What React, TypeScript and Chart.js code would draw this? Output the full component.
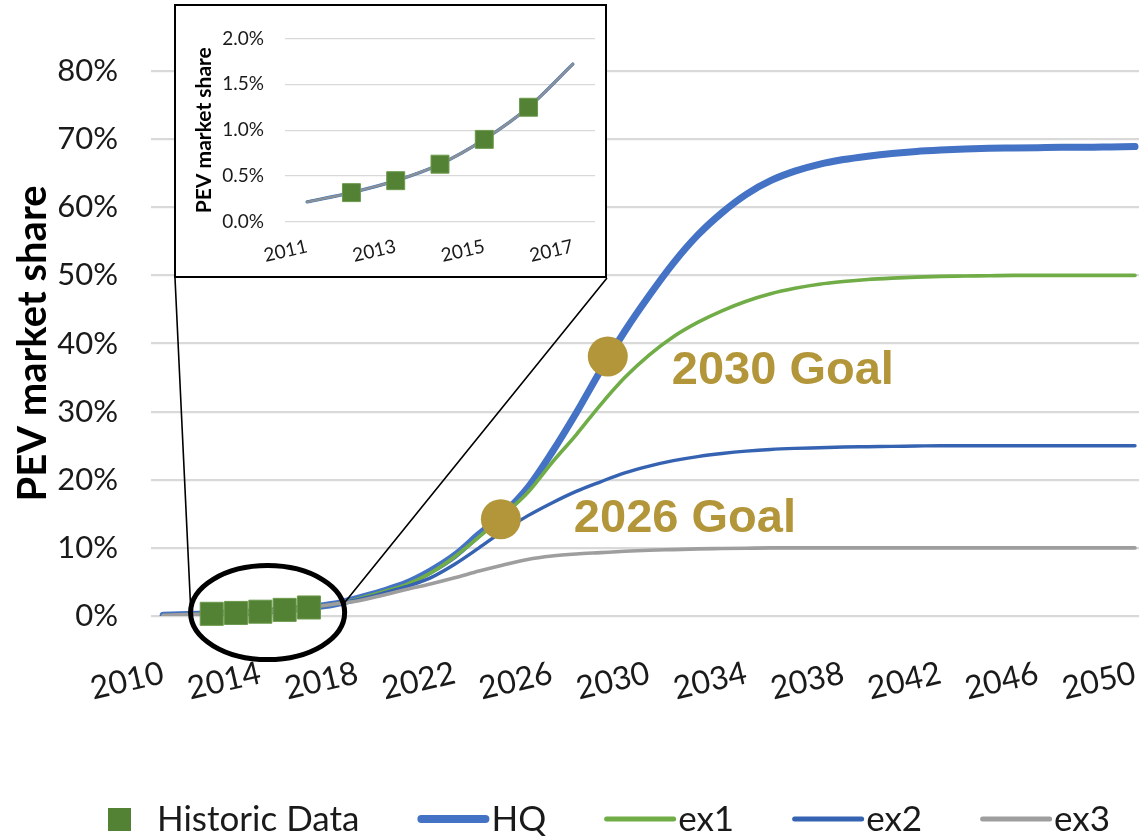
import React, { useEffect, useRef } from "react";
import { Chart, registerables } from "chart.js";

Chart.register(...registerables);

// ---------- DATA ----------
const years = [
  2010, 2011, 2012, 2013, 2014, 2015, 2016, 2017, 2018, 2019,
  2020, 2021, 2022, 2023, 2024, 2025, 2026, 2027, 2028, 2029,
  2030, 2031, 2032, 2033, 2034, 2035, 2036, 2037, 2038, 2039,
  2040, 2041, 2042, 2043, 2044, 2045, 2046, 2047, 2048, 2049, 2050,
];
const hq = [
  0.1, 0.22, 0.32, 0.45, 0.63, 0.9, 1.25, 1.72, 2.6, 3.6,
  4.8, 6.6, 8.9, 12.0, 15.0, 18.8, 24.0, 29.8, 36.0, 41.8,
  47.0, 51.8, 55.9, 59.2, 61.9, 63.9, 65.3, 66.3, 67.0, 67.5,
  67.9, 68.2, 68.4, 68.55, 68.65, 68.7, 68.75, 68.8, 68.8, 68.85, 68.9,
];
const ex1 = [
  0.1, 0.22, 0.32, 0.45, 0.63, 0.9, 1.25, 1.72, 2.5, 3.5,
  4.6, 6.3, 8.7, 11.6, 14.8, 18.1, 22.5, 26.6, 31.0, 35.0,
  38.3, 41.0, 43.1, 44.8, 46.2, 47.3, 48.1, 48.7, 49.1, 49.4,
  49.6, 49.75, 49.85, 49.9, 49.95, 50.0, 50.0, 50.0, 50.0, 50.0, 50.0,
];
const ex2 = [
  0.1, 0.22, 0.32, 0.45, 0.63, 0.9, 1.25, 1.72, 2.4, 3.3,
  4.3, 5.6, 7.6, 10.0, 12.5, 14.7, 16.6, 18.3, 19.7, 21.0,
  22.0, 22.8, 23.4, 23.85, 24.2, 24.45, 24.6, 24.7, 24.8, 24.85,
  24.9, 24.95, 25.0, 25.0, 25.0, 25.0, 25.0, 25.0, 25.0, 25.0, 25.0,
];
const ex3 = [
  0.1, 0.22, 0.32, 0.45, 0.63, 0.9, 1.25, 1.72, 2.2, 3.0,
  3.9, 4.7, 5.6, 6.6, 7.5, 8.3, 8.8, 9.1, 9.3, 9.5,
  9.65, 9.75, 9.85, 9.9, 9.95, 10.0, 10.0, 10.0, 10.0, 10.0,
  10.0, 10.0, 10.0, 10.0, 10.0, 10.0, 10.0, 10.0, 10.0, 10.0, 10.0,
];
const historicYears = [2012, 2013, 2014, 2015, 2016];
const historicValues = [0.32, 0.45, 0.63, 0.9, 1.25];

const goalYears = [2023.9, 2028.3];
const goalValues = [14.2, 38.1];
const goalLabels = ["2026 Goal", "2030 Goal"];

const mainXTicks = [2010, 2014, 2018, 2022, 2026, 2030, 2034, 2038, 2042, 2046, 2050];
const mainYTicks = [0, 10, 20, 30, 40, 50, 60, 70, 80];
const insetStart = 2011;
const insetEnd = 2017;
const insetXTicks = [2011, 2013, 2015, 2017];
const insetYTicks = [0, 0.5, 1.0, 1.5, 2.0];

const seriesNames = ["Historic Data", "HQ", "ex1", "ex2", "ex3"];

// ---------- STYLE ----------
const C_HQ = "#4472C4";
const C_EX1 = "#70AD47";
const C_EX2 = "#3563B2";
const C_EX3 = "#9E9E9E";
const C_HIST = "#548235";
const C_GOLD = "#B3963A";
const C_TEXT = "#1a1a1a";
const C_GRID = "#D9D9D9";
const FONT = "Lato, 'Noto Sans', sans-serif";

const W = 1139;
const H = 836;
const INSET = { left: 174, top: 4, width: 434, height: 275, border: 2.5 };
const goalLabelOffsets = [
  [73, 13],
  [64, 28],
];

const pts = (xs: number[], ys: number[]) => xs.map((x, i) => ({ x, y: ys[i] }));

const lineDs = (label: string, data: number[], color: string, width: number, xs: number[]) => ({
  type: "line" as const,
  label,
  data: pts(xs, data),
  borderColor: color,
  backgroundColor: color,
  borderWidth: width,
  pointRadius: 0,
  cubicInterpolationMode: "monotone" as const,
  borderCapStyle: "round" as const,
  fill: false,
});

const legendPlugin = {
  id: "customLegend",
  afterDraw(chart: any) {
    const ctx = chart.ctx;
    ctx.save();
    const cy = 819;
    let x = 108;
    ctx.font = `35px ${FONT}`;
    ctx.fillStyle = C_TEXT;
    ctx.textBaseline = "middle";
    const items = [
      { color: C_HIST, kind: "square", w: 0 },
      { color: C_HQ, kind: "line", w: 8 },
      { color: C_EX1, kind: "line", w: 5 },
      { color: C_EX2, kind: "line", w: 5 },
      { color: C_EX3, kind: "line", w: 5 },
    ];
    items.forEach((it, i) => {
      if (it.kind === "square") {
        ctx.fillStyle = it.color;
        ctx.fillRect(x, cy - 11, 23, 23);
        x += 23 + 26;
      } else {
        ctx.strokeStyle = it.color;
        ctx.lineWidth = it.w;
        ctx.lineCap = "round";
        ctx.beginPath();
        ctx.moveTo(x + it.w / 2, cy);
        ctx.lineTo(x + 72 - it.w / 2, cy);
        ctx.stroke();
        x += 74;
      }
      ctx.fillStyle = C_TEXT;
      ctx.fillText(seriesNames[i], x, cy + 1);
      x += ctx.measureText(seriesNames[i]).width + 58;
    });
    ctx.restore();
  },
};

const overlayPlugin = {
  id: "overlay",
  afterDatasetsDraw(chart: any) {
    const ctx = chart.ctx;
    const xs = chart.scales.x;
    const ys = chart.scales.y;
    ctx.save();
    // goal labels
    ctx.fillStyle = C_GOLD;
    ctx.font = `bold 47px 'Liberation Sans', Arial, sans-serif`;
    ctx.textBaseline = "alphabetic";
    ctx.textAlign = "left";
    goalYears.forEach((yr, i) => {
      const px = xs.getPixelForValue(yr);
      const py = ys.getPixelForValue(goalValues[i]);
      ctx.fillText(goalLabels[i], px + goalLabelOffsets[i][0], py + goalLabelOffsets[i][1]);
    });
    // ellipse around historic data
    const cx = xs.getPixelForValue(2014.3);
    const cyy = ys.getPixelForValue(0.5);
    const rx = xs.getPixelForValue(2014.3 + 3.17) - cx;
    const ry = cyy - ys.getPixelForValue(0.5 + 6.9);
    ctx.strokeStyle = "#000";
    ctx.lineWidth = 5;
    ctx.beginPath();
    ctx.ellipse(cx, cyy, rx, ry, 0, 0, Math.PI * 2);
    ctx.stroke();
    // connector lines from inset corners
    ctx.lineWidth = 1.6;
    ctx.beginPath();
    ctx.moveTo(INSET.left + 1, INSET.top + INSET.height - 1);
    ctx.lineTo(cx - rx, cyy - 6);
    ctx.moveTo(INSET.left + INSET.width - 1, INSET.top + INSET.height - 1);
    ctx.lineTo(cx + rx * 0.99, cyy - 9);
    ctx.stroke();
    ctx.restore();
  },
};

function MainChart() {
  const ref = useRef<HTMLCanvasElement>(null);
  useEffect(() => {
    if (!ref.current) return;
    const chart = new Chart(ref.current, {
      type: "line",
      data: {
        datasets: [
          {
            type: "scatter",
            label: "goals",
            data: pts(goalYears, goalValues),
            pointRadius: 20,
            pointBackgroundColor: C_GOLD,
            pointBorderColor: C_GOLD,
            pointBorderWidth: 0,
            showLine: false,
            clip: false,
          } as any,
          {
            type: "scatter",
            label: seriesNames[0],
            data: pts(historicYears, historicValues),
            pointStyle: "rect",
            pointRadius: 16.3,
            pointBackgroundColor: C_HIST,
            pointBorderColor: "#6C9A4C",
            pointBorderWidth: 1,
            showLine: false,
            clip: false,
          } as any,
          lineDs(seriesNames[4], ex3, C_EX3, 3.6, years),
          lineDs(seriesNames[3], ex2, C_EX2, 3.4, years),
          lineDs(seriesNames[2], ex1, C_EX1, 3.6, years),
          lineDs(seriesNames[1], hq, C_HQ, 7, years),
        ],
      },
      options: {
        animation: false,
        responsive: false,
        layout: { autoPadding: false, padding: { top: 71, right: 0, bottom: 110, left: 0 } },
        plugins: { legend: { display: false }, tooltip: { enabled: false } },
        scales: {
          x: {
            type: "linear",
            min: 2009.5,
            max: 2050.165,
            grid: { display: false },
            border: { display: false },
            afterBuildTicks: (s: any) => {
              s.ticks = mainXTicks.map((v) => ({ value: v }));
            },
            afterFit: (s: any) => {
              s.height = 110;
              s.paddingLeft = 0;
              s.paddingRight = 0;
            },
            ticks: {
              autoSkip: false,
              minRotation: 13,
              maxRotation: 13,
              padding: 30,
              color: C_TEXT,
              font: { family: FONT, size: 32 },
              callback: (v: any) => String(v),
            },
          },
          y: {
            min: 0,
            max: 80,
            afterBuildTicks: (s: any) => {
              s.ticks = mainYTicks.map((v) => ({ value: v }));
            },
            afterFit: (s: any) => {
              s.width = 151;
            },
            grid: { color: C_GRID, lineWidth: 2.2, drawTicks: false },
            border: { display: false },
            ticks: {
              padding: 33,
              color: C_TEXT,
              font: { family: FONT, size: 31 },
              callback: (v: any) => `${v}%`,
            },
            title: {
              display: true,
              text: "PEV market share",
              color: "#000",
              font: { family: FONT, size: 40, weight: "bold", lineHeight: 1.2 },
              padding: { top: 9, bottom: 0 },
            },
          },
        },
      },
      plugins: [overlayPlugin, legendPlugin],
    });
    return () => chart.destroy();
  }, []);
  return <canvas ref={ref} width={W} height={H} style={{ display: "block" }} />;
}

function InsetChart() {
  const ref = useRef<HTMLCanvasElement>(null);
  const iw = INSET.width - INSET.border * 2;
  const ih = INSET.height - INSET.border * 2;
  useEffect(() => {
    if (!ref.current) return;
    const si = years.indexOf(insetStart);
    const ei = years.indexOf(insetEnd) + 1;
    const ix = years.slice(si, ei);
    const chart = new Chart(ref.current, {
      type: "line",
      data: {
        datasets: [
          {
            type: "scatter",
            label: seriesNames[0],
            data: pts(historicYears, historicValues),
            pointStyle: "rect",
            pointRadius: 12.7,
            pointBackgroundColor: C_HIST,
            pointBorderColor: "#6C9A4C",
            pointBorderWidth: 1,
            showLine: false,
          } as any,
          lineDs(seriesNames[4], ex3.slice(si, ei), "#8a9198", 2.4, ix),
          lineDs(seriesNames[3], ex2.slice(si, ei), C_EX2, 2, ix),
          lineDs(seriesNames[2], ex1.slice(si, ei), C_EX1, 2, ix),
          lineDs(seriesNames[1], hq.slice(si, ei), C_HQ, 3.4, ix),
        ],
      },
      options: {
        animation: false,
        responsive: false,
        layout: { autoPadding: false, padding: { top: 20, right: 10, bottom: 8, left: 0 } },
        plugins: { legend: { display: false }, tooltip: { enabled: false } },
        scales: {
          x: {
            type: "linear",
            min: 2010.5,
            max: 2017.5,
            grid: { display: false },
            border: { display: false },
            afterBuildTicks: (s: any) => {
              s.ticks = insetXTicks.map((v) => ({ value: v }));
            },
            afterFit: (s: any) => {
              s.height = 46;
              s.paddingLeft = 0;
              s.paddingRight = 0;
            },
            ticks: {
              autoSkip: false,
              minRotation: 13,
              maxRotation: 13,
              padding: 5,
              color: C_TEXT,
              font: { family: FONT, size: 19 },
              callback: (v: any) => String(v),
            },
          },
          y: {
            min: 0,
            max: 2,
            afterBuildTicks: (s: any) => {
              s.ticks = insetYTicks.map((v) => ({ value: v }));
            },
            afterFit: (s: any) => {
              s.width = 109;
            },
            grid: { color: C_GRID, lineWidth: 1.3, drawTicks: false },
            border: { display: false },
            ticks: {
              padding: 21,
              color: C_TEXT,
              font: { family: FONT, size: 19 },
              callback: (v: any) => `${Number(v).toFixed(1)}%`,
            },
            title: {
              display: true,
              text: "PEV market share",
              color: "#000",
              font: { family: FONT, size: 21, weight: "bold", lineHeight: 1.2 },
              padding: { top: 16, bottom: 0 },
            },
          },
        },
      },
    });
    return () => chart.destroy();
  }, []);
  return <canvas ref={ref} width={iw} height={ih} style={{ display: "block" }} />;
}

export default function App() {
  return (
    <div style={{ position: "absolute", left: 0, top: 0, width: W, height: H, background: "#fff", overflow: "hidden" }}>
      <MainChart />
      <div
        style={{
          position: "absolute",
          left: INSET.left,
          top: INSET.top,
          width: INSET.width - INSET.border * 2,
          height: INSET.height - INSET.border * 2,
          border: `${INSET.border}px solid #000`,
          background: "#fff",
        }}
      >
        <InsetChart />
      </div>
    </div>
  );
}
